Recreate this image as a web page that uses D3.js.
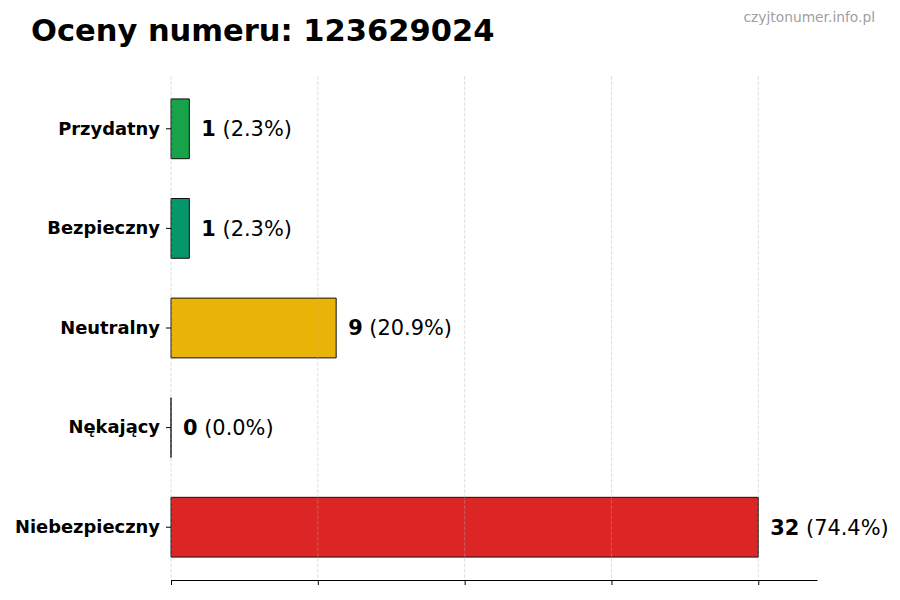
<!DOCTYPE html>
<html>
<head>
<meta charset="utf-8">
<script src="https://cdn.jsdelivr.net/npm/d3@7/dist/d3.min.js"></script>
<style>
  html, body { margin: 0; padding: 0; background: #fff; }
  svg { display: block; font-family: "DejaVu Sans", sans-serif; }
</style>
</head>
<body>
<svg id="chart" width="900" height="600"></svg>
<script>
const categories = ["Przydatny", "Bezpieczny", "Neutralny", "Nękający", "Niebezpieczny"];
const counts = [1, 1, 9, 0, 32];
const percents = ["2.3%", "2.3%", "20.9%", "0.0%", "74.4%"];
const colors = ["#16a34a", "#059669", "#eab308", "#ea580c", "#dc2626"];
const xTicks = [0, 8, 16, 24, 32];
const titleText = "Oceny numeru: 123629024";
const watermark = "czyjtonumer.info.pl";

const svg = d3.select("#chart");
const margin = { left: 171, right: 83, top: 76, bottom: 20 };
const W = 900, H = 600;

const x = d3.scaleLinear().domain([0, d3.max(counts) * 1.1]).range([margin.left, W - margin.right]);
const y = d3.scaleBand().domain(categories).range([margin.top, H - margin.bottom])
  .paddingInner(0.4).paddingOuter(0.23);

// title
svg.append("text").attr("x", 31).attr("y", 41)
  .attr("font-size", 30.5).attr("font-weight", "bold").attr("fill", "#000")
  .text(titleText);

svg.append("text").attr("x", 875).attr("y", 22).attr("text-anchor", "end")
  .attr("font-size", 13.8).attr("fill", "#a0a0a0")
  .text(watermark);

// bars
const data = categories.map((c, i) => ({ c, v: counts[i], p: percents[i], col: colors[i] }));
svg.append("g").selectAll("path").data(data).join("path")
  .attr("d", d => {
    const p = d3.path();
    const x0 = x(0), x1 = x(d.v), y0 = y(d.c), y1 = y0 + y.bandwidth();
    p.moveTo(x0, y0); p.lineTo(x1, y0); p.lineTo(x1, y1); p.lineTo(x0, y1); p.closePath();
    return p.toString();
  })
  .attr("fill", d => d.col)
  .attr("stroke", "#111").attr("stroke-width", 1);

// grid lines (on top, faint)
svg.append("g").selectAll("line").data(xTicks).join("line")
  .attr("x1", d => x(d)).attr("x2", d => x(d))
  .attr("y1", margin.top).attr("y2", H - margin.bottom)
  .attr("stroke", "#b0b0b0").attr("stroke-opacity", 0.5)
  .attr("stroke-width", 0.8).attr("stroke-dasharray", "3.7,1.6");

// x axis
const xAxis = d3.axisBottom(x).tickValues(xTicks).tickFormat("").tickSize(5).tickSizeOuter(0);
const gx = svg.append("g").attr("transform", `translate(0,${H - margin.bottom})`).call(xAxis);
gx.select(".domain").attr("stroke", "#000").attr("stroke-width", 1);
gx.selectAll(".tick line").attr("stroke", "#000");

// y axis
const yAxis = d3.axisLeft(y).tickSize(5).tickPadding(6);
const gy = svg.append("g").attr("transform", `translate(${margin.left},0)`).call(yAxis);
gy.select(".domain").remove();
gy.selectAll(".tick line").attr("stroke", "#000");
gy.selectAll(".tick text").attr("font-size", 17.9).attr("font-weight", "bold")
  .attr("fill", "#000").attr("font-family", "DejaVu Sans");

// value labels
const lbl = svg.append("g").selectAll("text").data(data).join("text")
  .attr("x", d => x(d.v) + 12)
  .attr("y", d => y(d.c) + y.bandwidth() / 2)
  .attr("dy", "0.35em")
  .attr("font-size", 20.9).attr("fill", "#000");
lbl.append("tspan").attr("font-weight", "bold").text(d => d.v);
lbl.append("tspan").text(d => " (" + d.p + ")");
</script>
</body>
</html>
